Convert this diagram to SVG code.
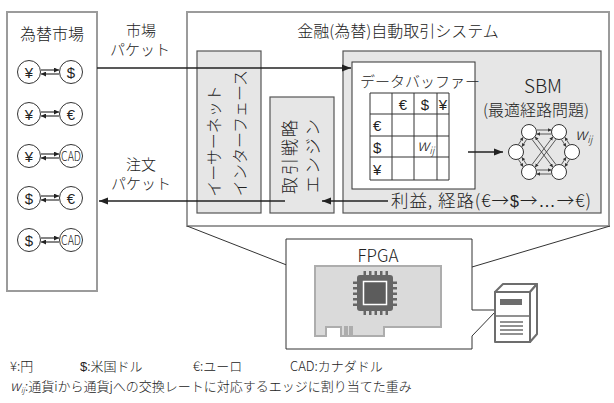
<svg xmlns="http://www.w3.org/2000/svg" width="614" height="403" viewBox="0 0 614 403">
  <defs>
    <style>
      text { font-family: "Noto Sans CJK JP", "Liberation Sans", sans-serif; font-weight: 300; fill: #222; }
      .lat { font-family: "Liberation Sans", "Noto Sans CJK JP", sans-serif; font-weight: 400; }
      .frame { fill: #fff; stroke: #9b9b9b; stroke-width: 2; }
      .panel { fill: #e6e6e6; stroke: #555; stroke-width: 1.2; }
      .cell { fill: none; stroke: #333; stroke-width: 1; }
      .cur { fill: #fff; stroke: #333; stroke-width: 1; }
      .gn { fill: #fff; stroke: #333; stroke-width: 1; }
      .wire { fill: none; stroke: #222; stroke-width: 1.3; }
      .thin { fill: none; stroke: #333; stroke-width: 1; }
      .pair { fill: none; stroke: #222; stroke-width: 1.1; marker-end: url(#ahS); }
      .edge { fill: none; stroke: #333; stroke-width: 0.8; marker-end: url(#ahXS); }
    </style>
    <marker id="ah" markerUnits="userSpaceOnUse" markerWidth="10" markerHeight="8" refX="9" refY="4" orient="auto">
      <path d="M0,0.5 L9,4 L0,7.5 z" fill="#222"/>
    </marker>
    <marker id="ahS" markerUnits="userSpaceOnUse" markerWidth="6" markerHeight="5" refX="5" refY="2.5" orient="auto">
      <path d="M0,0 L5,2.5 L0,5 z" fill="#222"/>
    </marker>
    <marker id="ahXS" markerUnits="userSpaceOnUse" markerWidth="4" markerHeight="4" refX="3.5" refY="1.75" orient="auto">
      <path d="M0,0 L3.5,1.75 L0,3.5 z" fill="#333"/>
    </marker>
  </defs>

  <!-- currency market -->
  <g id="market">
    <rect class="frame" x="7" y="12" width="90" height="279"/>
    <text x="52" y="40" font-size="16" text-anchor="middle">為替市場</text>

    <g id="pair-jpy-usd">
      <circle class="cur" cx="29" cy="72" r="11.5"/>
      <circle class="cur" cx="71" cy="72" r="11.5"/>
      <text class="lat" x="29" y="77.5" font-size="15" text-anchor="middle">¥</text>
      <text class="lat" x="71" y="77.5" font-size="15" text-anchor="middle">$</text>
      <path class="pair" d="M41,70 H59"/>
      <path class="pair" d="M59,74 H41"/>
    </g>
    <g id="pair-jpy-eur">
      <circle class="cur" cx="29" cy="114" r="11.5"/>
      <circle class="cur" cx="71" cy="114" r="11.5"/>
      <text class="lat" x="29" y="119.5" font-size="15" text-anchor="middle">¥</text>
      <text class="lat" x="71" y="119.5" font-size="15" text-anchor="middle">€</text>
      <path class="pair" d="M41,112 H59"/>
      <path class="pair" d="M59,116 H41"/>
    </g>
    <g id="pair-jpy-cad">
      <circle class="cur" cx="29" cy="156" r="11.5"/>
      <circle class="cur" cx="71" cy="156" r="11.5"/>
      <text class="lat" x="29" y="161.5" font-size="15" text-anchor="middle">¥</text>
      <text x="71" y="160.5" font-size="12.5" text-anchor="middle" textLength="20" lengthAdjust="spacingAndGlyphs">CAD</text>
      <path class="pair" d="M41,154 H59"/>
      <path class="pair" d="M59,158 H41"/>
    </g>
    <g id="pair-usd-eur">
      <circle class="cur" cx="29" cy="198" r="11.5"/>
      <circle class="cur" cx="71" cy="198" r="11.5"/>
      <text class="lat" x="29" y="203.5" font-size="15" text-anchor="middle">$</text>
      <text class="lat" x="71" y="203.5" font-size="15" text-anchor="middle">€</text>
      <path class="pair" d="M41,196 H59"/>
      <path class="pair" d="M59,200 H41"/>
    </g>
    <g id="pair-usd-cad">
      <circle class="cur" cx="29" cy="240" r="11.5"/>
      <circle class="cur" cx="71" cy="240" r="11.5"/>
      <text class="lat" x="29" y="245.5" font-size="15" text-anchor="middle">$</text>
      <text x="71" y="244.5" font-size="12.5" text-anchor="middle" textLength="20" lengthAdjust="spacingAndGlyphs">CAD</text>
      <path class="pair" d="M41,238 H59"/>
      <path class="pair" d="M59,242 H41"/>
    </g>
  </g>

  <!-- trading system -->
  <g id="system">
    <rect class="frame" x="187" y="12" width="422" height="214"/>
    <text x="398" y="37" font-size="16" text-anchor="middle">金融(為替)自動取引システム</text>
  </g>

  <g id="ethernet">
    <rect class="panel" x="197" y="51" width="64" height="162"/>
    <text font-size="16" text-anchor="middle" transform="translate(220,141) rotate(-90)">イーサーネット</text>
    <text font-size="16" text-anchor="middle" transform="translate(246,133) rotate(-90)">インターフェース</text>
  </g>

  <g id="engine">
    <rect class="panel" x="270" y="97" width="64" height="116"/>
    <text font-size="17" letter-spacing="2" text-anchor="middle" transform="translate(296,156) rotate(-90)">取引戦略</text>
    <text font-size="17" letter-spacing="2" text-anchor="middle" transform="translate(319,155) rotate(-90)">エンジン</text>
  </g>

  <g id="sbm">
    <rect class="panel" x="343" y="51" width="258" height="162"/>
    <text x="543" y="93" font-size="19" text-anchor="middle">SBM</text>
    <text x="536" y="116" font-size="16" text-anchor="middle">(最適経路問題)</text>
    <text x="575" y="140" font-size="16" font-style="italic">w<tspan font-size="10" dy="3">ij</tspan></text>
    <g id="graph">
      <circle class="gn" cx="529" cy="132" r="7.5"/>
      <circle class="gn" cx="559" cy="132" r="7.5"/>
      <circle class="gn" cx="516" cy="152" r="7.5"/>
      <circle class="gn" cx="572" cy="152" r="7.5"/>
      <circle class="gn" cx="529" cy="172" r="7.5"/>
      <circle class="gn" cx="559" cy="172" r="7.5"/>
      <path class="edge" d="M537,130 L551.5,130"/>
      <path class="edge" d="M551,134 L536.5,134"/>
      <path class="edge" d="M537,170 L551.5,170"/>
      <path class="edge" d="M551,174 L536.5,174"/>
      <path class="edge" d="M526.6,139.4 L521.8,146.8"/>
      <path class="edge" d="M518.4,144.6 L523.2,137.2"/>
      <path class="edge" d="M518.4,159.4 L523.2,166.8"/>
      <path class="edge" d="M526.6,164.6 L521.8,157.2"/>
      <path class="edge" d="M561.4,139.4 L566.2,146.8"/>
      <path class="edge" d="M569.6,144.6 L564.8,137.2"/>
      <path class="edge" d="M569.6,159.4 L564.8,166.8"/>
      <path class="edge" d="M561.4,164.6 L566.2,157.2"/>
      <path class="edge" d="M531.9,139.2 L552.9,167.2"/>
      <path class="edge" d="M556.1,164.8 L535.1,136.8"/>
      <path class="edge" d="M556.1,139.2 L535.1,167.2"/>
      <path class="edge" d="M531.9,164.8 L552.9,136.8"/>
    </g>
  </g>

  <g id="buffer">
    <rect x="352" y="62" width="123" height="127" fill="#fff" stroke="#333" stroke-width="1"/>
    <text x="360" y="87" font-size="15">データバッファー</text>
    <path class="cell" d="M370,93 H449 V180 H370 Z M370,114 H449 M370,136 H449 M370,157 H449 M392,93 V180 M414,93 V180 M437,93 V180"/>
    <text class="lat" x="403" y="109.5" font-size="15" text-anchor="middle">€</text>
    <text class="lat" x="425" y="109.5" font-size="15" text-anchor="middle">$</text>
    <text class="lat" x="443" y="109.5" font-size="15" text-anchor="middle">¥</text>
    <text class="lat" x="373" y="130.5" font-size="15">€</text>
    <text class="lat" x="373" y="152.5" font-size="15">$</text>
    <text class="lat" x="373" y="174.5" font-size="15">¥</text>
    <text x="417" y="151" font-size="16" font-style="italic">w<tspan font-size="10" dy="3">ij</tspan></text>
  </g>

  <!-- packet flow -->
  <g id="connectors">
    <path class="wire" d="M97,68 H351" marker-end="url(#ah)"/>
    <path class="wire" d="M285,201 H99" marker-end="url(#ah)"/>
    <path class="wire" d="M388,201 H322" marker-end="url(#ah)"/>
    <path class="wire" d="M468,152 H503" marker-end="url(#ah)"/>
    <path class="thin" d="M187,226 L353,291"/>
    <path class="thin" d="M610,226 L398,289"/>
  </g>

  <g id="labels">
    <text x="141" y="36" font-size="15" text-anchor="middle">市場</text>
    <text x="140" y="55" font-size="15" text-anchor="middle">パケット</text>
    <text x="141" y="170" font-size="15" text-anchor="middle">注文</text>
    <text x="141" y="189" font-size="15" text-anchor="middle">パケット</text>
    <text x="391" y="207" font-size="17.5" textLength="200" lengthAdjust="spacing">利益, 経路(€→<tspan class="lat" font-size="16">$</tspan>→<tspan class="lat" font-weight="300">…</tspan>→€)</text>
  </g>

  <!-- FPGA board -->
  <g id="fpga">
    <path d="M495,310 H472 V239 H286 V349 H472 V336 L496,311" fill="#fff" stroke="#333" stroke-width="1"/>
    <text x="378" y="262" font-size="17" text-anchor="middle">FPGA</text>
    <path d="M315,266 H441 V327 H384 V336 H352 V327 H350 V336 H347 V327 H345 V336 H341 V327 H326 V336 H315 Z" fill="#dadada" stroke="#adadad" stroke-width="2"/>
    <g id="chip" fill="#666">
      <rect x="357" y="275" width="36" height="36" rx="3"/>
      <rect x="363.5" y="281.5" width="23" height="23" fill="#5c5c5c" stroke="#fff" stroke-width="1.5"/>
      <path d="M363.5,271 h2.5 v4 h-2.5 z M369,271 h2.5 v4 h-2.5 z M374.5,271 h2.5 v4 h-2.5 z M380,271 h2.5 v4 h-2.5 z M385.5,271 h2.5 v4 h-2.5 z"/>
      <path d="M363.5,311 h2.5 v4 h-2.5 z M369,311 h2.5 v4 h-2.5 z M374.5,311 h2.5 v4 h-2.5 z M380,311 h2.5 v4 h-2.5 z M385.5,311 h2.5 v4 h-2.5 z"/>
      <path d="M353,281.5 v2.5 h4 v-2.5 z M353,287 v2.5 h4 v-2.5 z M353,292.5 v2.5 h4 v-2.5 z M353,298 v2.5 h4 v-2.5 z M353,303.5 v2.5 h4 v-2.5 z"/>
      <path d="M393,281.5 v2.5 h4 v-2.5 z M393,287 v2.5 h4 v-2.5 z M393,292.5 v2.5 h4 v-2.5 z M393,298 v2.5 h4 v-2.5 z M393,303.5 v2.5 h4 v-2.5 z"/>
    </g>
  </g>

  <g id="server" stroke="#6d6d6d" stroke-width="2" stroke-linejoin="round">
    <polygon points="495,292 503,284 537,284 530,292" fill="#fff"/>
    <polygon points="530,292 537,284 537,334 530,342" fill="#fff"/>
    <rect x="495" y="292" width="35" height="50" fill="#fff"/>
    <rect x="500" y="299" width="22" height="6" fill="#6d6d6d" stroke="none"/>
    <path d="M495,316 H530 M500,322 H523 M500,326 H523 M500,330 H523 M500,334 H523" stroke-width="1.3" fill="none"/>
  </g>

  <!-- legend -->
  <g id="legend">
    <text x="10" y="371" font-size="13">¥:円</text>
    <text x="80" y="371" font-size="13"><tspan class="lat" font-weight="300">$</tspan>:米国ドル</text>
    <text x="193" y="371" font-size="13">€:ユーロ</text>
    <text x="290" y="371" font-size="13">CAD:カナダドル</text>
    <text x="10" y="391" font-size="13"><tspan font-style="italic" font-size="14">w</tspan><tspan font-size="8" font-style="italic" dy="2">ij</tspan><tspan dy="-2">:通貨iから通貨jへの交換レートに対応するエッジに割り当てた重み</tspan></text>
  </g>
</svg>
